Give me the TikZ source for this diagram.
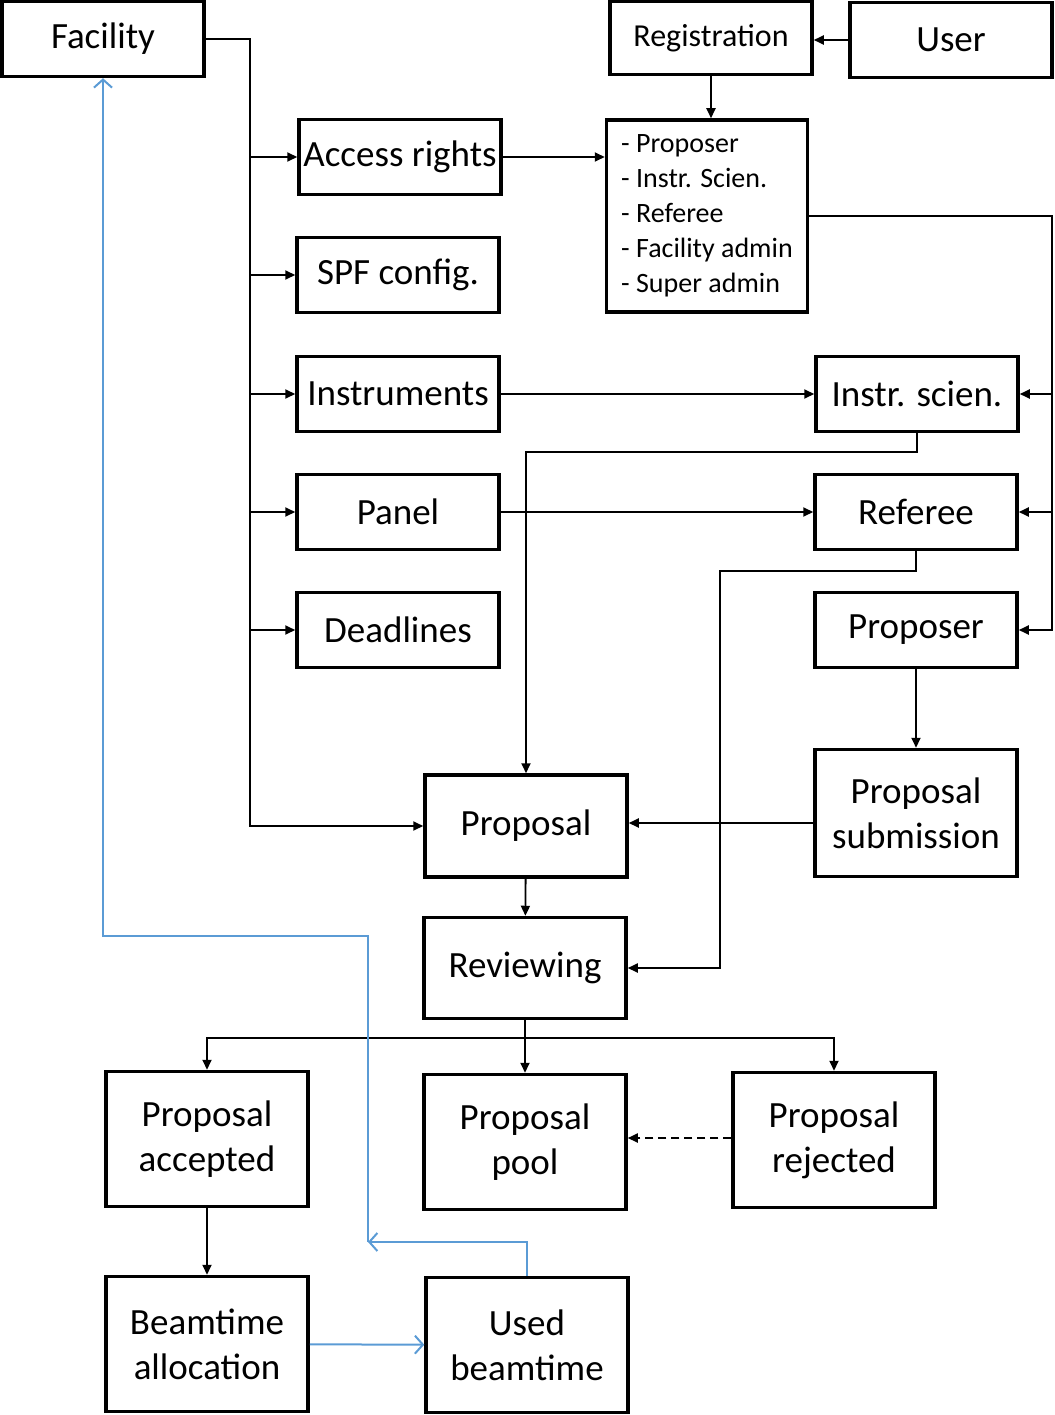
\documentclass[tikz,border=0pt]{standalone}
\usepackage{fontspec}
\setmainfont{Carlito}
\usetikzlibrary{arrows.meta}
\definecolor{flowblue}{RGB}{91,155,213}
\begin{document}
\begin{tikzpicture}[x=1pt,y=-1pt,
  box/.style={draw,line width=3.5pt,minimum width=202pt,minimum height=75pt,inner sep=0pt,
    font=\fontsize{37}{45}\selectfont,align=center},
  bigbox/.style={box,minimum height=135pt},
  link/.style={line width=1.8pt,-{Triangle[length=10pt,width=9pt]}},
  back/.style={line width=2pt,flowblue,-{Straight Barb[length=8pt,width=18pt]}}]
\useasboundingbox (0,0) rectangle (1054,1415);

\node[box] (facility) at (103,39) {Facility};
\node[box,minimum height=73pt,font=\fontsize{32}{38}\selectfont] (registration) at (711,38) {Registration};
\node[box] (user) at (951,40) {User};
\node[box] (access) at (400,157) {Access rights};
\node[box,minimum width=201pt,minimum height=192pt,font=\fontsize{28}{35}\selectfont,align=left] (roles) at (707,216)
  {- Proposer\\- Instr. Scien.\\- Referee\\- Facility admin\\- Super admin};
\node[box] (spf) at (398,275) {SPF config.};
\node[box] (instruments) at (398,394) {Instruments};
\node[box] (instrsci) at (917,394) {Instr. scien.};
\node[box] (panel) at (398,512) {Panel};
\node[box] (referee) at (916,512) {Referee};
\node[box] (deadlines) at (398,630) {Deadlines};
\node[box] (proposer) at (916,630) {Proposer};
\node[box,minimum height=102pt] (proposal) at (526,826) {Proposal};
\node[box,minimum height=127pt] (submission) at (916,813) {Proposal\\submission};
\node[box,minimum height=101pt] (reviewing) at (525,968) {Reviewing};
\node[bigbox] (accepted) at (207,1139) {Proposal\\accepted};
\node[bigbox] (pool) at (525,1142) {Proposal\\pool};
\node[bigbox] (rejected) at (834,1140) {Proposal\\rejected};
\node[bigbox] (allocation) at (207,1344) {Beamtime\\allocation};
\node[bigbox] (used) at (527,1345) {Used\\beamtime};

\coordinate (fbus) at (250,39);
\coordinate (rbus) at (1052,216);
\coordinate (split) at (525,1038);
\coordinate (turn) at (368,1242);

\draw[link] (facility.east) -- (fbus) |- (proposal.west);
\foreach \n in {access,spf,instruments,panel,deadlines}
  \draw[link] (fbus |- \n.west) -- (\n.west);
\draw[link] (user.west) -- (registration.east |- user.west);
\draw[link] (registration.south) -- (registration.south |- roles.north);
\draw[link] (access.east) -- (roles.west |- access.east);
\draw[link] (roles.east) -- (rbus) |- (proposer.east);
\foreach \n in {instrsci,referee}
  \draw[link] (rbus |- \n.east) -- (\n.east);
\draw[link] (instruments) -- (instrsci);
\draw[link] (panel) -- (referee);
\draw[link] (instrsci.south) -- ++(0,19) -| (proposal.north);
\draw[link] (referee.south) -- ++(0,20) -| (720,968) -- (reviewing.east);
\draw[link] (proposer) -- (submission);
\draw[link] (submission.west |- 0,823) -- (proposal.east |- 0,823);
\draw[link] (proposal) -- (reviewing);
\draw[link] (reviewing.south) -- (pool.north);
\draw[link] (split) -| (accepted.north);
\draw[link] (split) -| (rejected.north);
\draw[link,dash pattern=on 8pt off 5pt] (rejected.west |- 0,1138) -- (pool.east |- 0,1138);
\draw[link] (accepted) -- (allocation);

\draw[back] (allocation) -- (used);
\draw[back] (used.north) |- (turn);
\draw[back] (turn) -- (368,936) -| (facility.south);
\end{tikzpicture}
\end{document}
